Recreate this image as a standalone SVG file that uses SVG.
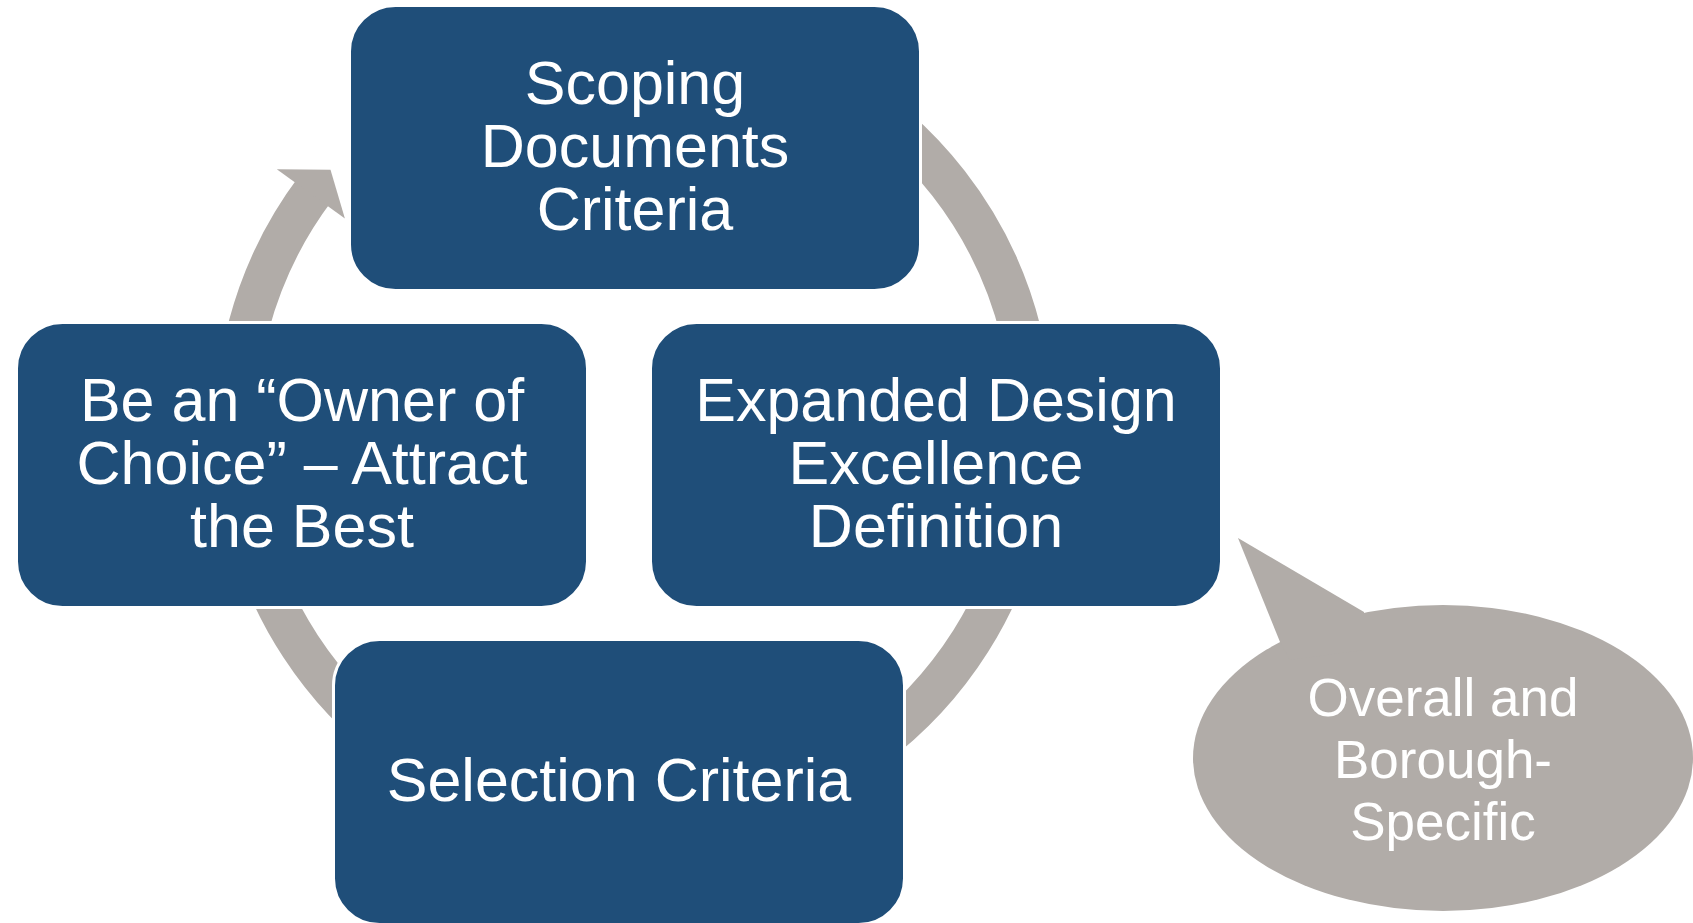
<svg xmlns="http://www.w3.org/2000/svg" width="1693" height="923" viewBox="0 0 1693 923">
<style>
.node{fill:#1F4E79;stroke:#FFFFFF;stroke-width:3}
.lbl{font-family:"Liberation Sans",Arial,sans-serif;font-size:61px;fill:#FFFFFF;text-anchor:middle}
.blbl{font-family:"Liberation Sans",Arial,sans-serif;font-size:53px;fill:#FFFFFF;text-anchor:middle}
.gray{fill:#B1ACA8}
</style>
<rect width="1693" height="923" fill="#FFFFFF"/>
<g id="connectors">
<path d="M833.25,82.9 A398.5,398.5 0 1 1 315.7,188.2" fill="none" stroke="#B1ACA8" stroke-width="41"/>
<polygon class="gray" points="276.8,169.3 330.5,169.7 344.9,218.6"/>
</g>
<g id="node-scoping">
<rect class="node" x="349.5" y="5.5" width="571" height="285" rx="46" ry="46"/>
<text class="lbl" x="635" y="104">Scoping</text>
<text class="lbl" x="635" y="167">Documents</text>
<text class="lbl" x="635" y="230">Criteria</text>
</g>
<g id="node-owner">
<rect class="node" x="16.5" y="322.5" width="571" height="285" rx="46" ry="46"/>
<text class="lbl" x="302" y="421">Be an “Owner of</text>
<text class="lbl" x="302" y="484">Choice” – Attract</text>
<text class="lbl" x="302" y="547">the Best</text>
</g>
<g id="node-expanded">
<rect class="node" x="650.5" y="322.5" width="571" height="285" rx="46" ry="46"/>
<text class="lbl" x="936" y="421">Expanded Design</text>
<text class="lbl" x="936" y="484">Excellence</text>
<text class="lbl" x="936" y="547">Definition</text>
</g>
<g id="node-selection">
<rect class="node" x="333.5" y="639.5" width="571" height="285" rx="46" ry="46"/>
<text class="lbl" x="619" y="801">Selection Criteria</text>
</g>
<g id="callout">
<ellipse class="gray" cx="1443" cy="758" rx="250" ry="153"/>
<polygon class="gray" points="1280,642 1238,538 1364,612 1364,650 1290,660"/>
<text class="blbl" x="1443" y="716">Overall and</text>
<text class="blbl" x="1443" y="778">Borough-</text>
<text class="blbl" x="1443" y="840">Specific</text>
</g>
</svg>
